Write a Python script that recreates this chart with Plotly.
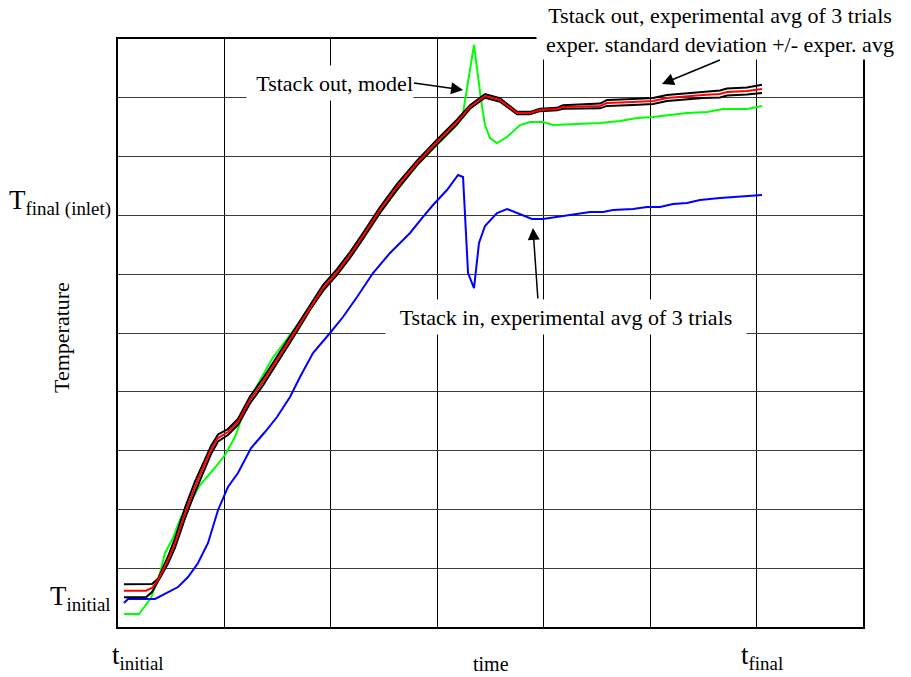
import plotly.graph_objects as go

# ---- data (time and temperature in grid units, 0..7 and 0..10) ----
t_exp = [0.056, 0.263, 0.319, 0.376, 0.470, 0.536, 0.630, 0.723, 0.817, 0.874,
         0.940, 1.033, 1.127, 1.240, 1.362, 1.494, 1.682, 1.804, 1.926, 2.058,
         2.180, 2.302, 2.462, 2.621, 2.809, 2.997, 3.185, 3.307, 3.448, 3.589,
         3.683, 3.749, 3.871, 3.965, 4.125, 4.181, 4.529, 4.595, 4.839, 5.027,
         5.158, 5.252, 5.497, 5.656, 5.722, 5.910, 6.051]
T_out_exp = [0.617, 0.617, 0.663, 0.799, 1.139, 1.429, 1.939, 2.381, 2.789, 3.010,
             3.214, 3.316, 3.486, 3.861, 4.167, 4.541, 5.085, 5.442, 5.765, 6.037,
             6.327, 6.650, 7.092, 7.483, 7.891, 8.248, 8.588, 8.844, 9.031, 8.963,
             8.827, 8.741, 8.741, 8.793, 8.810, 8.844, 8.861, 8.912, 8.929, 8.946,
             8.997, 9.014, 9.048, 9.065, 9.099, 9.116, 9.150]
T_out_std = [0.11, 0.11, 0.07, 0.02, 0.06, 0.08, 0.09, 0.09, 0.08, 0.07,
             0.06, 0.05, 0.05, 0.06, 0.06, 0.06, 0.06, 0.05, 0.05, 0.05,
             0.05, 0.05, 0.05, 0.05, 0.04, 0.04, 0.04, 0.03, 0.03, 0.03,
             0.02, 0.02, 0.02, 0.02, 0.02, 0.03, 0.04, 0.05, 0.05, 0.05,
             0.05, 0.05, 0.05, 0.06, 0.06, 0.06, 0.07]

t_model = [0.056, 0.197, 0.310, 0.395, 0.442, 0.517, 0.592, 0.677, 0.770, 0.893,
           1.005, 1.099, 1.156, 1.268, 1.447, 1.616, 1.804, 2.058, 2.302, 2.556,
           2.809, 2.997, 3.185, 3.242, 3.345, 3.411, 3.448, 3.495, 3.561, 3.655,
           3.777, 3.871, 3.993, 4.087, 4.341, 4.529, 4.717, 4.876, 5.027, 5.346,
           5.534, 5.684, 5.910, 6.051]
T_out_model = [0.221, 0.221, 0.493, 0.918, 1.259, 1.514, 1.871, 2.109, 2.415, 2.670,
               2.925, 3.231, 3.520, 3.980, 4.558, 4.966, 5.425, 6.037, 6.660, 7.280,
               7.857, 8.197, 8.537, 8.741, 9.898, 8.963, 8.537, 8.316, 8.231, 8.333,
               8.537, 8.588, 8.588, 8.537, 8.554, 8.571, 8.605, 8.656, 8.673, 8.741,
               8.759, 8.810, 8.810, 8.861]

t_in = [0.056, 0.094, 0.348, 0.470, 0.564, 0.658, 0.752, 0.846, 0.940, 1.033,
        1.127, 1.250, 1.381, 1.494, 1.616, 1.710, 1.832, 1.992, 2.114, 2.246,
        2.396, 2.556, 2.744, 2.866, 2.960, 3.091, 3.195, 3.242, 3.289, 3.345,
        3.392, 3.448, 3.561, 3.655, 3.749, 3.890, 3.993, 4.125, 4.275, 4.435,
        4.557, 4.651, 4.839, 4.970, 5.093, 5.215, 5.346, 5.468, 5.656, 5.816,
        6.051]
T_in_exp = [0.408, 0.476, 0.476, 0.595, 0.680, 0.850, 1.088, 1.429, 1.990, 2.381,
            2.619, 3.044, 3.316, 3.571, 3.912, 4.252, 4.660, 5.000, 5.272, 5.612,
            6.020, 6.361, 6.701, 6.973, 7.177, 7.432, 7.687, 7.653, 6.020, 5.765,
            6.531, 6.820, 7.041, 7.109, 7.041, 6.939, 6.939, 6.973, 7.007, 7.058,
            7.058, 7.092, 7.109, 7.143, 7.143, 7.194, 7.211, 7.262, 7.296, 7.313,
            7.347]

upper = [m + s for m, s in zip(T_out_exp, T_out_std)]
lower = [m - s for m, s in zip(T_out_exp, T_out_std)]

SERIF = "Liberation Serif, Times New Roman, serif"

fig = go.Figure()
fig.add_trace(go.Scatter(x=t_model, y=T_out_model, mode="lines",
                         line=dict(color="#00ff00", width=2)))
fig.add_trace(go.Scatter(x=t_in, y=T_in_exp, mode="lines",
                         line=dict(color="#0000ff", width=2)))
fig.add_trace(go.Scatter(x=t_exp, y=upper, mode="lines",
                         line=dict(color="black", width=2)))
fig.add_trace(go.Scatter(x=t_exp, y=lower, mode="lines",
                         line=dict(color="black", width=2)))
fig.add_trace(go.Scatter(x=t_exp, y=T_out_exp, mode="lines",
                         line=dict(color="#ff0000", width=2)))

font_lbl = dict(family=SERIF, size=22, color="black")
font_big = dict(family=SERIF, size=27, color="black")
arrow_style = dict(showarrow=True, arrowhead=2, arrowsize=1.6, arrowwidth=1.5,
                   arrowcolor="black", standoff=0)

annotations = [
    # boxed callouts; arrows leave from the edge of the white box
    dict(x=3.242, y=9.133, ax=2.781, ay=9.252, xref="x", yref="y", axref="x", ayref="y",
         xanchor="right", yanchor="middle", text="Tstack out, model", align="right",
         bgcolor="white", borderpad=0, width=166, height=34, font=font_lbl,
         **arrow_style),
    dict(x=5.111, y=9.235, ax=5.656, ay=9.643, xref="x", yref="y", axref="x", ayref="y",
         xanchor="center", yanchor="bottom",
         text="Tstack out, experimental avg of 3 trials<br>exper. standard deviation +/- exper. avg",
         align="center", bgcolor="white", borderpad=0, width=366, height=58,
         font=font_lbl, **arrow_style),
    dict(x=4.209, y=5.264, xref="x", yref="y", xanchor="center", yanchor="middle",
         text="Tstack in, experimental avg of 3 trials", showarrow=False,
         align="center", bgcolor="white", borderpad=0, width=360, height=34,
         font=font_lbl),
    dict(x=3.899, y=6.786, ax=3.946, ay=5.561, xref="x", yref="y", axref="x", ayref="y",
         text="", **arrow_style),
    # axis end labels
    dict(x=-0.0067, y=0.7211, xref="paper", yref="paper", xanchor="right", yanchor="middle",
         text="T<sub>final (inlet)</sub>", showarrow=False, font=font_big),
    dict(x=-0.0067, y=0.0493, xref="paper", yref="paper", xanchor="right", yanchor="middle",
         text="T<sub>initial</sub>", showarrow=False, font=font_big),
    dict(x=-0.0107, y=-0.0510, xref="paper", yref="paper", xanchor="left", yanchor="middle",
         text="t<sub>initial</sub>", showarrow=False, font=font_big),
    dict(x=0.8336, y=-0.0510, xref="paper", yref="paper", xanchor="left", yanchor="middle",
         text="t<sub>final</sub>", showarrow=False, font=font_big),
    dict(x=0.5007, y=-0.0629, xref="paper", yref="paper", xanchor="center", yanchor="middle",
         text="time", showarrow=False, font=dict(family=SERIF, size=20, color="black")),
    dict(x=-0.0752, y=0.4932, xref="paper", yref="paper", xanchor="center", yanchor="middle",
         text="Temperature", showarrow=False, textangle=-90,
         font=dict(family=SERIF, size=22, color="black")),
]

fig.update_layout(
    width=911, height=677,
    margin=dict(l=118, r=48, t=39, b=50),
    paper_bgcolor="white", plot_bgcolor="white",
    showlegend=False,
    annotations=annotations,
    xaxis=dict(range=[0, 7], tick0=0, dtick=1, showticklabels=False, ticks="",
               showgrid=True, gridcolor="black", gridwidth=1, zeroline=False,
               showline=True, linecolor="black", linewidth=2, mirror=True,
               fixedrange=True),
    yaxis=dict(range=[0, 10], tick0=0, dtick=1, showticklabels=False, ticks="",
               showgrid=True, gridcolor="#3a3a3a", gridwidth=1, zeroline=False,
               showline=True, linecolor="black", linewidth=2, mirror=True,
               fixedrange=True),
)

fig.write_html("out.html")
